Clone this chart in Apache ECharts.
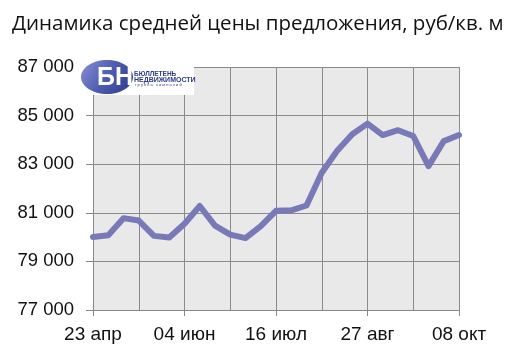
<!DOCTYPE html>
<html><head><meta charset="utf-8">
<script src="https://cdn.jsdelivr.net/npm/echarts@6/dist/echarts.min.js"></script>
<style>html,body{margin:0;padding:0;background:#fff}#c{width:512px;height:357px}</style>
</head><body><div id="c"></div>
<script>
var titleText = 'Динамика средней цены предложения, руб/кв. м';
var categories = ['23 апр','30 апр','07 май','14 май','21 май','28 май','04 июн','11 июн','18 июн','25 июн','02 июл','09 июл','16 июл','23 июл','30 июл','06 авг','13 авг','20 авг','27 авг','03 сен','10 сен','17 сен','24 сен','01 окт','08 окт'];
var prices = [80000,80080,80780,80680,80050,79980,80550,81280,80470,80100,79960,80450,81080,81100,81300,82650,83540,84230,84670,84200,84400,84160,82920,83950,84200];
var yTicks = {min:77000, max:87000, step:2000};

var chart = echarts.init(document.getElementById('c'), null, {renderer:'canvas'});
chart.setOption({
  animation:false,
  backgroundColor:'#ffffff',
  title:{text:titleText,left:7,top:9,textStyle:{fontFamily:'Open Sans',fontWeight:'normal',fontSize:20.5,color:'#111'}},
  grid:{left:93,right:53,top:67,bottom:47,show:true,backgroundColor:'#e9e9e9',borderWidth:0},
  xAxis:{type:'category',data:categories,boundaryGap:false,
    axisLine:{show:true,lineStyle:{color:'#888',width:1}},
    axisTick:{show:true,interval:5,length:6,lineStyle:{color:'#888'}},
    axisLabel:{interval:5,color:'#111',fontFamily:'Liberation Sans',fontSize:19,margin:15},
    splitLine:{show:true,interval:2,lineStyle:{color:'#8a8a8a',width:1}}},
  yAxis:{type:'value',min:yTicks.min,max:yTicks.max,interval:yTicks.step,
    axisLine:{show:true,lineStyle:{color:'#888',width:1}},
    axisTick:{show:true,length:7,lineStyle:{color:'#888'}},
    axisLabel:{color:'#111',fontFamily:'Liberation Sans',fontSize:18.5,margin:19,
      formatter:function(v){return String(v).replace(/(\d)(?=(\d{3})+$)/g,'$1 ');}},
    splitLine:{show:true,lineStyle:{color:'#8a8a8a',width:1}}},
  series:[{type:'line',data:prices,showSymbol:false,symbol:'none',
    lineStyle:{color:'#7a79b8',width:6,join:'round',cap:'round'}}],
  graphic:[
    {type:'rect',shape:{x:82,y:56,width:112,height:39},style:{fill:'#ffffff'},z:100},
    {type:'ellipse',shape:{cx:107,cy:77,rx:26,ry:17},
      style:{fill:{type:'linear',x:0,y:0,x2:1,y2:1,colorStops:[{offset:0,color:'#8a90d4'},{offset:0.5,color:'#4d5cb0'},{offset:1,color:'#2c3a8c'}]}},z:101},
    {type:'text',left:97,top:66,style:{text:'БН',fill:'#ffffff',font:'bold 25px "Liberation Sans"'},z:102},
    {type:'text',left:134,top:71,style:{text:'БЮЛЛЕТЕНЬ',fill:'#2d3a8a',font:'bold 6.5px "Liberation Sans"'},z:102},
    {type:'text',left:134,top:77,style:{text:'НЕДВИЖИМОСТИ',fill:'#2d3a8a',font:'bold 7px "Liberation Sans"'},z:102},
    {type:'text',left:135,top:83,style:{text:'г р у п п а   к о м п а н и й',fill:'#2d3a8a',font:'4px "Liberation Sans"'},z:102}
  ]
});
</script></body></html>
